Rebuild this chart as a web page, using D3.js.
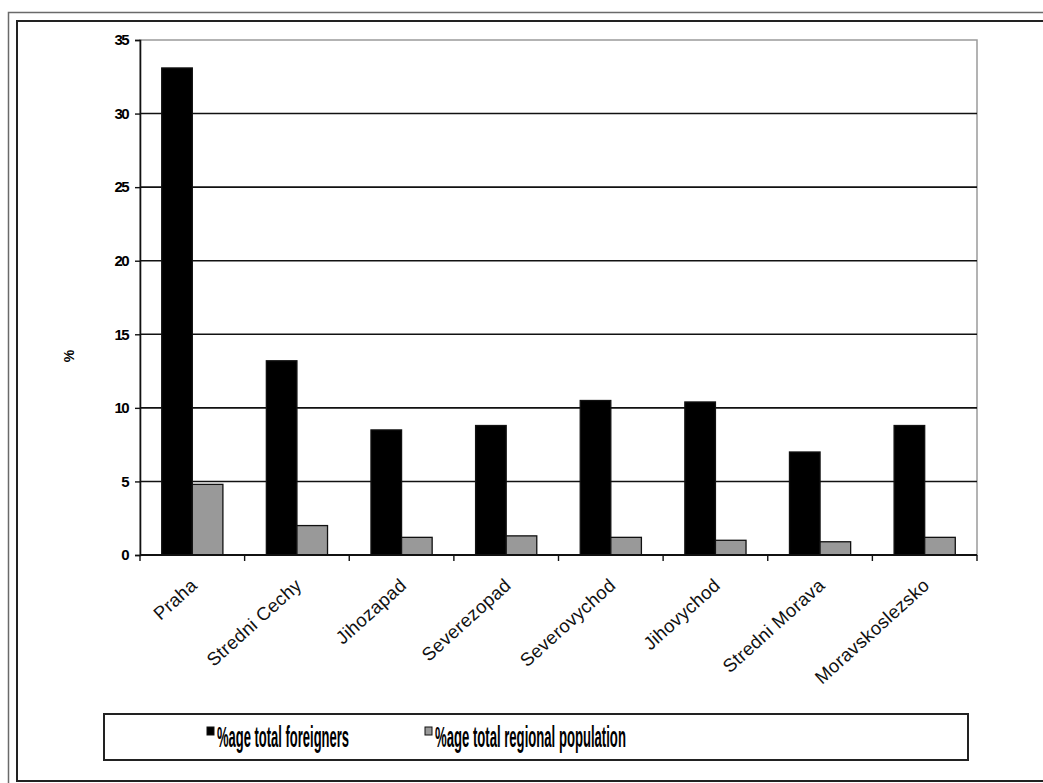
<!DOCTYPE html>
<html>
<head>
<meta charset="utf-8">
<script src="https://cdn.jsdelivr.net/npm/d3@7"></script>
<style>
  html, body { margin: 0; padding: 0; background: #fff; }
  svg { display: block; }
</style>
</head>
<body>
<svg id="chart" width="1043" height="783"></svg>
<script>
// Regions of the Czech Republic
const regions = ["Praha", "Stredni Cechy", "Jihozapad", "Severezopad", "Severovychod", "Jihovychod", "Stredni Morava", "Moravskoslezsko"];
// Share of all foreigners living in each region (%)
const foreignersShare = [33.1, 13.2, 8.5, 8.8, 10.5, 10.4, 7.0, 8.8];
// Foreigners as a share of the region's own population (%)
const populationShare = [4.8, 2.0, 1.2, 1.3, 1.2, 1.0, 0.9, 1.2];
const seriesNames = ["%age total foreigners", "%age total regional population"];
const seriesColors = ["#000000", "#999999"];
const yTicks = [0, 5, 10, 15, 20, 25, 30, 35];

const svg = d3.select("#chart");

// Page frames
svg.append("rect").attr("x", 8.5).attr("y", 12.5).attr("width", 1100).attr("height", 900)
  .attr("fill", "none").attr("stroke", "#6a6a6a").attr("stroke-width", 1.5);
svg.append("rect").attr("x", 17).attr("y", 21).attr("width", 1100).attr("height", 760)
  .attr("fill", "#fff").attr("stroke", "#222").attr("stroke-width", 2);

const plot = { left: 140, right: 977, top: 40, bottom: 555 };

const x = d3.scaleBand().domain(regions).range([plot.left, plot.right]).paddingInner(0).paddingOuter(0);
const inner = d3.scaleBand().domain([0, 1]).range([0, x.bandwidth()]).paddingInner(0).paddingOuter(0.71);
const y = d3.scaleLinear().domain([0, 35]).range([plot.bottom, plot.top]);

// Plot area border
svg.append("rect").attr("x", plot.left).attr("y", plot.top)
  .attr("width", plot.right - plot.left).attr("height", plot.bottom - plot.top)
  .attr("fill", "none").attr("stroke", "#9a9a9a").attr("stroke-width", 1.5);

// Gridlines
svg.append("g").selectAll("line").data(yTicks.filter(t => t > 0 && t < 35)).join("line")
  .attr("x1", plot.left).attr("x2", plot.right)
  .attr("y1", d => y(d)).attr("y2", d => y(d))
  .attr("stroke", "#111").attr("stroke-width", 1.6);

// Bars
const data = regions.map((r, i) => ({ region: r, values: [foreignersShare[i], populationShare[i]] }));
const groups = svg.append("g").selectAll("g").data(data).join("g")
  .attr("transform", d => `translate(${x(d.region)},0)`);
groups.selectAll("rect").data(d => d.values.map((v, k) => ({ v, k }))).join("rect")
  .attr("x", d => inner(d.k))
  .attr("width", inner.bandwidth())
  .attr("y", d => y(d.v))
  .attr("height", d => y(0) - y(d.v))
  .attr("fill", d => seriesColors[d.k])
  .attr("stroke", "#111").attr("stroke-width", 1.3);

// Y axis
const yAxis = d3.axisLeft(y).tickValues(yTicks).tickSize(5).tickPadding(7);
const yg = svg.append("g").attr("transform", `translate(${plot.left},0)`).call(yAxis);
yg.select(".domain").attr("stroke", "#111").attr("stroke-width", 1.6);
yg.selectAll(".tick line").attr("stroke", "#111").attr("stroke-width", 1.4);
yg.selectAll(".tick text")
  .attr("font-family", "'Liberation Sans Narrow', 'Liberation Sans', Arial, sans-serif")
  .attr("font-weight", "bold").attr("font-size", 15).attr("fill", "#000")
  .attr("letter-spacing", -1.6);

// X axis with ticks at category boundaries
svg.append("line").attr("x1", plot.left).attr("x2", plot.right)
  .attr("y1", plot.bottom).attr("y2", plot.bottom)
  .attr("stroke", "#111").attr("stroke-width", 1.8);
const boundaries = regions.map(r => x(r)).concat([plot.right]);
svg.append("g").selectAll("line").data(boundaries).join("line")
  .attr("x1", d => d).attr("x2", d => d)
  .attr("y1", plot.bottom).attr("y2", plot.bottom + 6)
  .attr("stroke", "#111").attr("stroke-width", 1.4);

// Category labels, rotated
svg.append("g").selectAll("text").data(regions).join("text")
  .attr("transform", d => `translate(${x(d) + x.bandwidth() / 2 + 6},${plot.bottom + 32}) rotate(-42)`)
  .attr("text-anchor", "end")
  .attr("font-family", "'Liberation Sans', Arial, sans-serif")
  .attr("font-size", 18.5).attr("fill", "#111")
  .attr("letter-spacing", 0.3)
  .text(d => d);

// Y axis title
svg.append("text")
  .attr("transform", "translate(74,356) rotate(-90)")
  .attr("text-anchor", "middle")
  .attr("font-family", "'Liberation Sans', Arial, sans-serif")
  .attr("font-weight", "bold").attr("font-size", 14)
  .text("%");

// Legend: bold labels squeezed horizontally into a condensed look
const legend = svg.append("g");
legend.append("rect").attr("x", 104).attr("y", 714).attr("width", 864).attr("height", 46)
  .attr("fill", "#fff").attr("stroke", "#222").attr("stroke-width", 2);
const legendX = [207, 425];
const legendW = [132, 191];
seriesNames.forEach((name, i) => {
  legend.append("rect").attr("x", legendX[i]).attr("y", 727).attr("width", 7).attr("height", 8)
    .attr("fill", seriesColors[i]).attr("stroke", "#111").attr("stroke-width", 1);
  const g = legend.append("g");
  const t = g.append("text").attr("x", 0).attr("y", 0)
    .attr("font-family", "'Liberation Sans', Arial, sans-serif")
    .attr("font-weight", "bold").attr("font-size", 30)
    .text(name);
  const natural = t.node().getComputedTextLength();
  g.attr("transform", `translate(${legendX[i] + 10},747) scale(${legendW[i] / natural},1)`);
});
</script>
</body>
</html>
